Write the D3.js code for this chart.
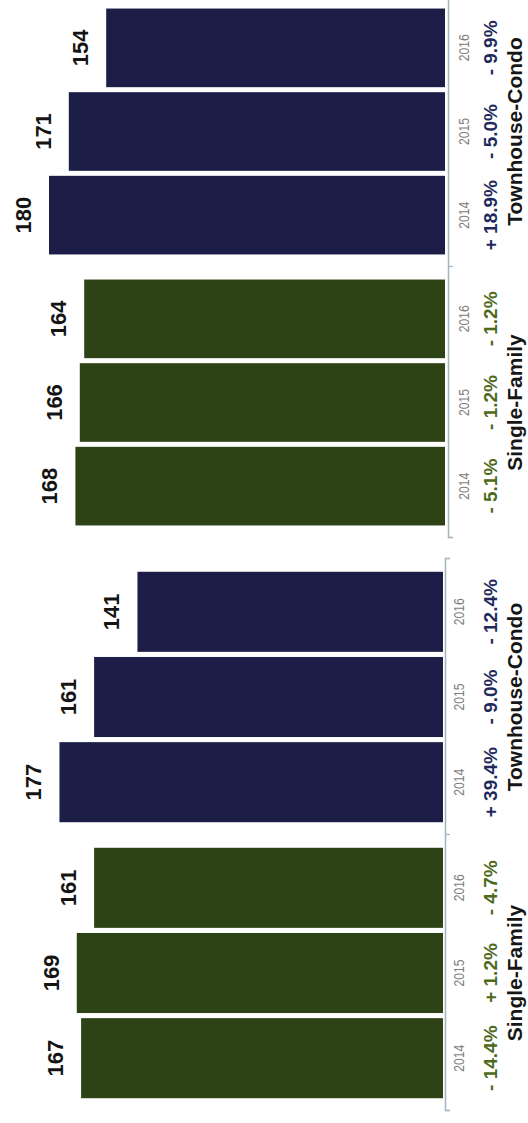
<!DOCTYPE html>
<html><head><meta charset="utf-8">
<script src="https://cdn.jsdelivr.net/npm/d3@7"></script>
<style>
html,body{margin:0;padding:0;background:#fff;}
svg{display:block;font-family:"Liberation Sans",Arial,Helvetica,sans-serif;}
</style>
</head><body>
<svg id="chart" width="528" height="1123"></svg>
<script>
// ---- data ----
const years = ["2014", "2015", "2016"];
const categories = ["Single-Family", "Townhouse-Condo"];

// upper panel (top of the page)
const upperSingleFamily = [168, 166, 164];
const upperTownhouse = [180, 171, 154];
const upperSingleFamilyChange = ["- 5.1%", "- 1.2%", "- 1.2%"];
const upperTownhouseChange = ["+ 18.9%", "- 5.0%", "- 9.9%"];

// lower panel (bottom of the page)
const lowerSingleFamily = [167, 169, 161];
const lowerTownhouse = [177, 161, 141];
const lowerSingleFamilyChange = ["- 14.4%", "+ 1.2%", "- 4.7%"];
const lowerTownhouseChange = ["+ 39.4%", "- 9.0%", "- 12.4%"];

const barColors = ["#2d4316", "#1c1e47"];
const changeColors = ["#4d6a1c", "#1f2a5c"];

const svg = d3.select("#chart");

function drawPanel(cfg, sfVals, tcVals, sfChg, tcChg) {
  // chart is drawn as a normal column chart, then rotated -90deg
  const g = svg.append("g")
    .attr("transform", `translate(${cfg.tx},${cfg.ty}) rotate(-90)`);

  const x0 = d3.scaleBand().domain(categories).range([0, cfg.length]);
  const x1 = d3.scaleBand().domain(years).range([0, x0.bandwidth()])
    .paddingInner(0.06).paddingOuter(0.15);
  const y = d3.scaleLinear().domain([0, 200]).range([cfg.H, 0]);

  const groups = categories.map((c, i) => ({
    cat: c,
    values: i === 0 ? sfVals : tcVals,
    changes: i === 0 ? sfChg : tcChg,
    i
  }));

  const gg = g.selectAll("g.grp").data(groups).join("g")
    .attr("class", "grp")
    .attr("transform", d => `translate(${x0(d.cat)},0)`);

  // bars
  gg.selectAll("rect").data(d => d.values.map((v, k) => ({v, yr: years[k], i: d.i})))
    .join("rect")
    .attr("x", d => x1(d.yr))
    .attr("width", x1.bandwidth())
    .attr("y", d => y(d.v))
    .attr("height", d => y(0) - y(d.v))
    .attr("fill", d => barColors[d.i]);

  // value labels
  gg.selectAll("text.val").data(d => d.values.map((v, k) => ({v, yr: years[k]})))
    .join("text").attr("class", "val")
    .attr("x", d => x1(d.yr) + x1.bandwidth() / 2)
    .attr("y", d => y(d.v) - 18)
    .attr("text-anchor", "middle")
    .attr("font-size", 22).attr("font-weight", "bold").attr("fill", "#141414")
    .text(d => d.v);

  // year labels
  gg.selectAll("text.yr").data(years).join("text").attr("class", "yr")
    .attr("x", d => x1(d) + x1.bandwidth() / 2)
    .attr("y", cfg.yearY)
    .attr("text-anchor", "middle")
    .attr("font-size", 14.5).attr("fill", "#7c7c7c")
    .attr("textLength", 27).attr("lengthAdjust", "spacingAndGlyphs")
    .text(d => d);

  // change labels
  gg.selectAll("text.chg").data(d => d.changes.map((c, k) => ({c, yr: years[k], i: d.i})))
    .join("text").attr("class", "chg")
    .attr("x", d => x1(d.yr) + x1.bandwidth() / 2)
    .attr("y", cfg.changeY)
    .attr("text-anchor", "middle")
    .attr("font-size", 19).attr("font-weight", "bold")
    .attr("fill", d => changeColors[d.i])
    .text(d => d.c);

  // category labels
  gg.append("text")
    .attr("x", x0.bandwidth() / 2)
    .attr("y", cfg.catY)
    .attr("text-anchor", "middle")
    .attr("font-size", 21).attr("font-weight", "bold").attr("fill", "#161616")
    .text(d => d.cat);

  // baseline axis with ticks at group boundaries
  const xa = d3.scaleLinear().domain([0, categories.length]).range([0, cfg.length]);
  const axis = g.append("g")
    .attr("transform", `translate(0,${cfg.H + cfg.axisGap})`)
    .call(d3.axisBottom(xa).tickValues([0, 1, 2]).tickFormat("").tickSize(5).tickSizeOuter(5));
  axis.select(".domain").attr("stroke", "#a4b4bf").attr("stroke-width", 1.5);
  axis.selectAll(".tick line").attr("stroke", "#a4b4bf").attr("stroke-width", 1.2);
}

drawPanel({tx: 5, ty: 538, length: 542, H: 440, axisGap: 3, yearY: 464, changeY: 492, catY: 517},
  upperSingleFamily, upperTownhouse, upperSingleFamilyChange, upperTownhouseChange);

drawPanel({tx: 9.6, ty: 1111, length: 552, H: 433.4, axisGap: 2, yearY: 454.4, changeY: 487.4, catY: 512.4},
  lowerSingleFamily, lowerTownhouse, lowerSingleFamilyChange, lowerTownhouseChange);
</script>
</body></html>
